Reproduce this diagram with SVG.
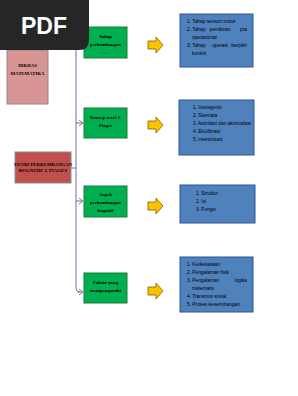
<svg xmlns="http://www.w3.org/2000/svg" width="298" height="396" viewBox="0 0 298 396">
<defs>
<style>
.green{fill:#00b050;stroke:#1e7b3e;stroke-width:1}
.blue{fill:#4f81bd;stroke:#2f5597;stroke-width:1}
.gt{font-family:"Liberation Serif",serif;font-size:4.8px;font-weight:bold;fill:#000;text-anchor:middle}
.bt{font-family:"Liberation Sans",sans-serif;font-size:4.8px;fill:#000}
.arrow{fill:#ffc000;stroke:#7f6000;stroke-width:0.8}
.conn{fill:none;stroke:#8064a2;stroke-width:1}
</style>
<marker id="chev" markerWidth="6" markerHeight="8" refX="5" refY="4" orient="auto" markerUnits="userSpaceOnUse">
<path d="M1,1 L5,4 L1,7" fill="none" stroke="#8064a2" stroke-width="0.9"/>
</marker>
</defs>
<rect width="298" height="396" fill="#ffffff"/>
<g id="connectors">
<path class="conn" d="M76,30 V288 Q76,292 80,292"/>
<path class="conn" d="M71,168 H76"/>
<path class="conn" d="M76,123 H83" marker-end="url(#chev)"/>
<path class="conn" d="M76,201 H83" marker-end="url(#chev)"/>
<path class="conn" d="M78,292 H83" marker-end="url(#chev)"/>
<path class="conn" d="M76,42 H83" marker-end="url(#chev)"/>
</g>
<g id="dikdas">
<rect x="7" y="50" width="41" height="54" fill="#d99594" stroke="#8c8c8c" stroke-width="1"/>
<text class="gt" x="27.5" y="67">DIKDAS</text>
<text class="gt" x="27.5" y="75">MATEMATIKA</text>
</g>
<g id="teori">
<rect x="15" y="152" width="56" height="31" fill="#c0504d" stroke="#8c8c8c" stroke-width="1"/>
<text class="gt" x="43" y="166" font-size="3.8">TEORI PERKEMBANGAN</text>
<text class="gt" x="43" y="172" font-size="3.8">KOGNITIF J. PIAGET</text>
</g>
<g id="g1">
<rect class="green" x="84" y="27" width="43" height="31"/>
<text class="gt" x="105.5" y="38">Tahap</text>
<text class="gt" x="105.5" y="46">perkembangan</text>
<text class="gt" x="105.5" y="54" font-size="3">. . . .</text>
</g>
<g id="a1"><path class="arrow" d="M148,41 H156 V37 L163,45 L156,53 V49 H148 Z"/></g>
<g id="b1">
<rect class="blue" x="180" y="14" width="73" height="53"/>
<text class="bt" x="187" y="23">1. Tahap sensori motor</text>
<text class="bt" x="187" y="31">2. Tahap</text>
<text class="bt" x="220" y="31" text-anchor="middle">pemikiran</text>
<text class="bt" x="247" y="31" text-anchor="end">pra</text>
<text class="bt" x="192" y="39">operasional</text>
<text class="bt" x="187" y="47">3. Tahap</text>
<text class="bt" x="220" y="47" text-anchor="middle">operasi</text>
<text class="bt" x="247" y="47" text-anchor="end">berpikir</text>
<text class="bt" x="192" y="55">konkrit</text>
</g>
<g id="g2">
<rect class="green" x="84" y="108" width="43" height="30"/>
<text class="gt" x="105.5" y="119">Konsep teori J.</text>
<text class="gt" x="105.5" y="127">Piaget</text>
</g>
<g id="a2"><path class="arrow" d="M148,121 H156 V117 L163,125 L156,133 V129 H148 Z"/></g>
<g id="b2">
<rect class="blue" x="179" y="100" width="75" height="55"/>
<text class="bt" x="193" y="109">1. Intelegensi</text>
<text class="bt" x="193" y="117">2. Skemata</text>
<text class="bt" x="193" y="125">3. Asimilasi dan akomodasi</text>
<text class="bt" x="193" y="133">4. Ekuilibrasi</text>
<text class="bt" x="193" y="141">5. interiorisasi</text>
</g>
<g id="g3">
<rect class="green" x="84" y="186" width="43" height="31"/>
<text class="gt" x="105.5" y="196">Aspek</text>
<text class="gt" x="105.5" y="204">perkembangan</text>
<text class="gt" x="105.5" y="212" font-size="3">kognitif</text>
</g>
<g id="a3"><path class="arrow" d="M148,202 H156 V198 L163,206 L156,214 V210 H148 Z"/></g>
<g id="b3">
<rect class="blue" x="180" y="185" width="75" height="38"/>
<text class="bt" x="196" y="195">1. Struktur</text>
<text class="bt" x="196" y="203">2. Isi</text>
<text class="bt" x="196" y="211">3. Fungsi</text>
</g>
<g id="g4">
<rect class="green" x="84" y="273" width="43" height="30"/>
<text class="gt" x="105.5" y="284">Faktor yang</text>
<text class="gt" x="105.5" y="292">mempengaruhi</text>
</g>
<g id="a4"><path class="arrow" d="M148,287 H156 V283 L163,291 L156,299 V295 H148 Z"/></g>
<g id="b4">
<rect class="blue" x="180" y="257" width="73" height="55"/>
<text class="bt" x="187" y="266">1. Kedewasaan</text>
<text class="bt" x="187" y="274">2. Pengalaman fisik</text>
<text class="bt" x="187" y="282">3. Pengalaman</text>
<text class="bt" x="247" y="282" text-anchor="end">logika</text>
<text class="bt" x="192" y="290">matematis</text>
<text class="bt" x="187" y="298">4. Transmisi sosial</text>
<text class="bt" x="187" y="306">5. Proses keseimbangan</text>
</g>
<g id="pdf">
<path d="M0,0 H89 V40 Q89,50 79,50 H0 Z" fill="#262626"/>
<text x="44" y="34" font-family="Liberation Sans,sans-serif" font-size="23" font-weight="bold" fill="#ffffff" text-anchor="middle">PDF</text>
</g>
</svg>
